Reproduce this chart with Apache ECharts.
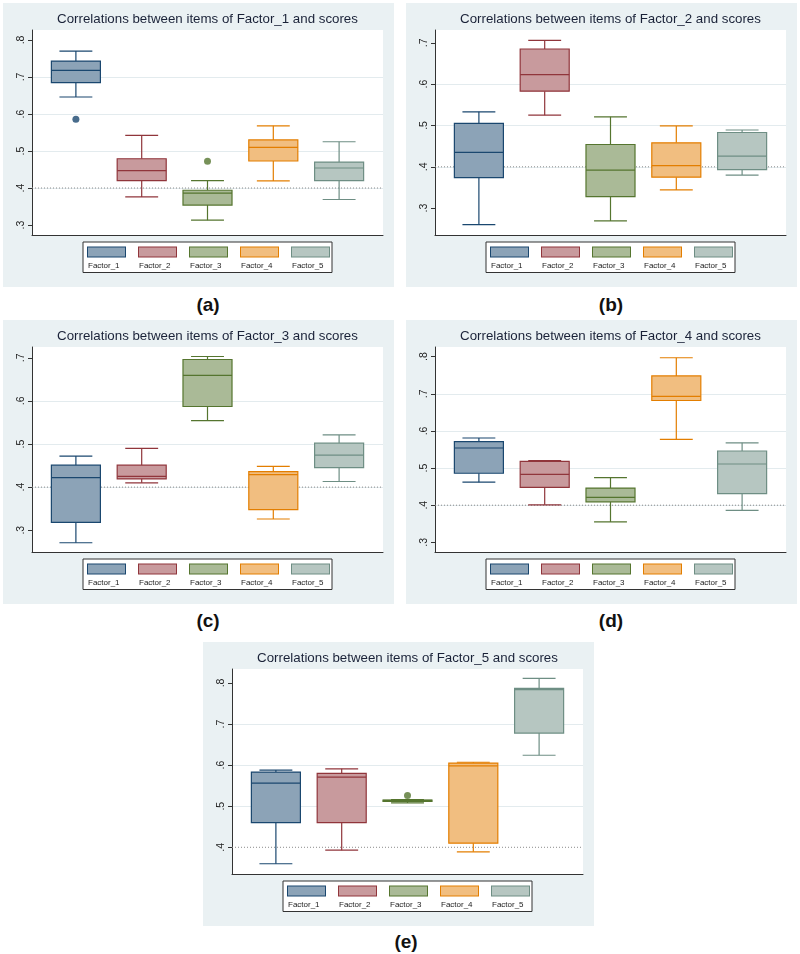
<!DOCTYPE html>
<html>
<head>
<meta charset="utf-8">
<title>Correlations between items of factors and scores</title>
<script src="https://cdn.jsdelivr.net/npm/echarts@6/dist/echarts.min.js"></script>
<style>
	html, body { margin: 0; padding: 0; background: #fff; }
	body { width: 800px; height: 954px; position: relative; font-family: "Liberation Sans", Arial, sans-serif; }
	.panel { position: absolute; width: 391px; height: 284px; background: #eaf1f3; }
	.caption { position: absolute; width: 120px; height: 24px; line-height: 24px; text-align: center; font-size: 19px; font-weight: bold; color: #111; }
	#panel_a { left: 3px; top: 3px; }
	#panel_b { left: 406px; top: 3px; }
	#panel_c { left: 3px; top: 320px; }
	#panel_d { left: 406px; top: 320px; }
	#panel_e { left: 203px; top: 642px; }
	#cap_a { left: 148px; top: 293px; }
	#cap_b { left: 551px; top: 293px; }
	#cap_c { left: 148px; top: 609px; }
	#cap_d { left: 551px; top: 609px; }
	#cap_e { left: 346px; top: 930px; }
</style>
</head>
<body>
<div class="panel" id="panel_a"></div>
<div class="panel" id="panel_b"></div>
<div class="panel" id="panel_c"></div>
<div class="panel" id="panel_d"></div>
<div class="panel" id="panel_e"></div>
<div class="caption" id="cap_a">(a)</div>
<div class="caption" id="cap_b">(b)</div>
<div class="caption" id="cap_c">(c)</div>
<div class="caption" id="cap_d">(d)</div>
<div class="caption" id="cap_e">(e)</div>
<script>
// 各因子名称
var factors = ['Factor_1', 'Factor_2', 'Factor_3', 'Factor_4', 'Factor_5'];

var titles = [
	'Correlations between items of Factor_1 and scores',
	'Correlations between items of Factor_2 and scores',
	'Correlations between items of Factor_3 and scores',
	'Correlations between items of Factor_4 and scores',
	'Correlations between items of Factor_5 and scores'
];

// 箱线数据: [下须, Q1, 中位数, Q3, 上须], 每行一个因子
var boxes_a = [[0.646, 0.685, 0.718, 0.743, 0.770], [0.376, 0.420, 0.447, 0.479, 0.542], [0.313, 0.354, 0.386, 0.394, 0.420], [0.419, 0.473, 0.510, 0.530, 0.568], [0.369, 0.420, 0.454, 0.470, 0.525]];
var boxes_b = [[0.260, 0.374, 0.435, 0.505, 0.533], [0.525, 0.583, 0.623, 0.685, 0.706], [0.269, 0.328, 0.392, 0.454, 0.521], [0.344, 0.375, 0.403, 0.458, 0.499], [0.380, 0.393, 0.426, 0.483, 0.489]];
var boxes_c = [[0.271, 0.318, 0.422, 0.451, 0.472], [0.410, 0.419, 0.425, 0.451, 0.490], [0.554, 0.587, 0.659, 0.696, 0.703], [0.326, 0.348, 0.429, 0.436, 0.448], [0.413, 0.445, 0.474, 0.502, 0.521]];
var boxes_d = [[0.462, 0.486, 0.554, 0.571, 0.581], [0.401, 0.448, 0.483, 0.518, 0.520], [0.355, 0.409, 0.421, 0.446, 0.474], [0.577, 0.682, 0.693, 0.748, 0.797], [0.386, 0.431, 0.511, 0.546, 0.568]];
var boxes_e = [[0.360, 0.460, 0.556, 0.583, 0.588], [0.393, 0.460, 0.571, 0.580, 0.591], [0.508, 0.512, 0.514, 0.515, 0.516], [0.389, 0.410, 0.598, 0.605, 0.607], [0.624, 0.678, 0.784, 0.787, 0.811]];

// 异常值: [因子序号, 值]
var outliers_a = [[0, 0.586], [2, 0.472]];
var outliers_b = [];
var outliers_c = [];
var outliers_d = [];
var outliers_e = [[2, 0.526]];

// y轴范围与刻度
var y_ranges = [[0.273, 0.827], [0.235, 0.731], [0.2495, 0.725], [0.274, 0.826], [0.335, 0.834]];
var y_ticks_a = [0.3, 0.4, 0.5, 0.6, 0.7, 0.8];
var y_ticks_b = [0.3, 0.4, 0.5, 0.6, 0.7];
var y_ticks_c = [0.3, 0.4, 0.5, 0.6, 0.7];
var y_ticks_d = [0.3, 0.4, 0.5, 0.6, 0.7, 0.8];
var y_ticks_e = [0.4, 0.5, 0.6, 0.7, 0.8];

// 参考线
var threshold = 0.4;
var x_range = [-0.667, 4.667];

var box_charts = {
	strokes : ['#1a476f', '#90353b', '#55752f', '#e37e00', '#6e8e84'],
	fills : ['#8ca3b7', '#c89a9d', '#aaba97', '#f1be80', '#b6c6c1'],
	font : '"Liberation Sans", Arial, Helvetica, sans-serif',
	box_w : 0.745,
	cap_w : 0.5,

	/**
	 * 初始化
	 */
	init : function(){
		var ids = ['panel_a', 'panel_b', 'panel_c', 'panel_d', 'panel_e'];
		var boxes = [boxes_a, boxes_b, boxes_c, boxes_d, boxes_e];
		var outliers = [outliers_a, outliers_b, outliers_c, outliers_d, outliers_e];
		var ticks = [y_ticks_a, y_ticks_b, y_ticks_c, y_ticks_d, y_ticks_e];
		for(var i = 0; i < ids.length; i++){
			var myChart = echarts.init(document.getElementById(ids[i]), null, {renderer: 'canvas'});
			myChart.setOption(box_charts.get_options(titles[i], boxes[i], outliers[i], y_ranges[i], ticks[i]));
		}
	},

	/**
	 * 画一个箱子
	 * @param k 因子序号
	 */
	render_box : function(k){
		return function(params, api){
			var x = api.value(0);
			var p_lo = api.coord([x, api.value(1)]);
			var p_q1 = api.coord([x, api.value(2)]);
			var p_md = api.coord([x, api.value(3)]);
			var p_q3 = api.coord([x, api.value(4)]);
			var p_hi = api.coord([x, api.value(5)]);
			var bw = api.size([box_charts.box_w, 0])[0];
			var cw = api.size([box_charts.cap_w, 0])[0];
			var cx = p_lo[0];
			var ls = {stroke: box_charts.strokes[k], lineWidth: 1.2};
			return {
				type: 'group',
				children: [
					{type: 'line', shape: {x1: cx, y1: p_q3[1], x2: cx, y2: p_hi[1]}, style: ls},
					{type: 'line', shape: {x1: cx, y1: p_lo[1], x2: cx, y2: p_q1[1]}, style: ls},
					{type: 'line', shape: {x1: cx - cw / 2, y1: p_hi[1], x2: cx + cw / 2, y2: p_hi[1]}, style: ls},
					{type: 'line', shape: {x1: cx - cw / 2, y1: p_lo[1], x2: cx + cw / 2, y2: p_lo[1]}, style: ls},
					{type: 'rect', shape: {x: cx - bw / 2, y: p_q3[1], width: bw, height: p_q1[1] - p_q3[1]},
						style: {fill: box_charts.fills[k], stroke: box_charts.strokes[k], lineWidth: 1.2}},
					{type: 'line', shape: {x1: cx - bw / 2, y1: p_md[1], x2: cx + bw / 2, y2: p_md[1]}, style: ls}
				]
			};
		};
	},

	/**
	 * 图表参数
	 */
	get_options : function(title, boxes, outliers, y_range, y_ticks){
		var series = [];
		// 0.4 参考线
		series.push({
			type: 'line',
			name: 'ref',
			silent: true,
			symbol: 'none',
			data: [[x_range[0], threshold], [x_range[1], threshold]],
			lineStyle: {color: '#8a8a8a', width: 1, type: [1, 2]},
			z: 1
		});
		for(var k = 0; k < factors.length; k++){
			var b = boxes[k];
			series.push({
				type: 'custom',
				name: factors[k],
				renderItem: box_charts.render_box(k),
				encode: {x: 0, y: [1, 2, 3, 4, 5]},
				itemStyle: {color: box_charts.fills[k], borderColor: box_charts.strokes[k]},
				silent: true,
				data: [[k, b[0], b[1], b[2], b[3], b[4]]],
				z: 3
			});
		}
		series.push({
			type: 'scatter',
			name: 'outliers',
			symbolSize: 7,
			silent: true,
			itemStyle: {
				color: function(p){ return box_charts.strokes[p.data[0]]; }
			},
			data: outliers,
			z: 4
		});

		var rich = {
			t: {fontSize: 8, fontFamily: box_charts.font, color: '#222', lineHeight: 10, padding: [8, 0, 0, 0]}
		};
		for(var j = 0; j < factors.length; j++){
			rich['s' + j] = {
				width: 37, height: 9, lineHeight: 9,
				backgroundColor: box_charts.fills[j],
				borderColor: box_charts.strokes[j],
				borderWidth: 1
			};
		}

		var option = {
			animation: false,
			title: {
				text: title,
				left: 204.5,
				top: 10,
				padding: 0,
				textAlign: 'center',
				textStyle: {fontSize: 13.3, fontWeight: 'normal', color: '#1a2238', fontFamily: box_charts.font}
			},
			legend: {
				data: factors,
				left: 80,
				top: 239,
				icon: 'none',
				itemWidth: 0,
				itemHeight: 9,
				itemGap: 8,
				selectedMode: false,
				padding: [4, 2, 3, 0],
				borderColor: '#333',
				borderWidth: 1,
				backgroundColor: '#fff',
				formatter: function(name){
					return '{s' + factors.indexOf(name) + '|}\n{t|' + name + '}';
				},
				textStyle: {rich: rich}
			},
			grid: {
				left: 29, right: 11, top: 27, bottom: 52,
				show: true, backgroundColor: '#fff', borderWidth: 0
			},
			xAxis: {
				type: 'value',
				min: x_range[0],
				max: x_range[1],
				axisLine: {show: true, onZero: false, lineStyle: {color: '#333', width: 1}},
				axisTick: {show: false},
				axisLabel: {show: false},
				splitLine: {show: false}
			},
			yAxis: {
				type: 'value',
				min: y_range[0],
				max: y_range[1],
				axisLine: {show: true, onZero: false, lineStyle: {color: '#333', width: 1}},
				axisTick: {show: true, length: 4, customValues: y_ticks, lineStyle: {color: '#333'}},
				axisLabel: {
					customValues: y_ticks,
					rotate: 90,
					margin: 5,
					fontSize: 10.5,
					color: '#222',
					fontFamily: box_charts.font,
					formatter: function(v){ return v.toFixed(1).replace(/^0/, ''); }
				},
				splitLine: {show: true, showMinLine: false, showMaxLine: false, lineStyle: {color: '#e3ebee', width: 1}}
			},
			series: series
		};
		return option;
	}
};

box_charts.init();
</script>
</body>
</html>
